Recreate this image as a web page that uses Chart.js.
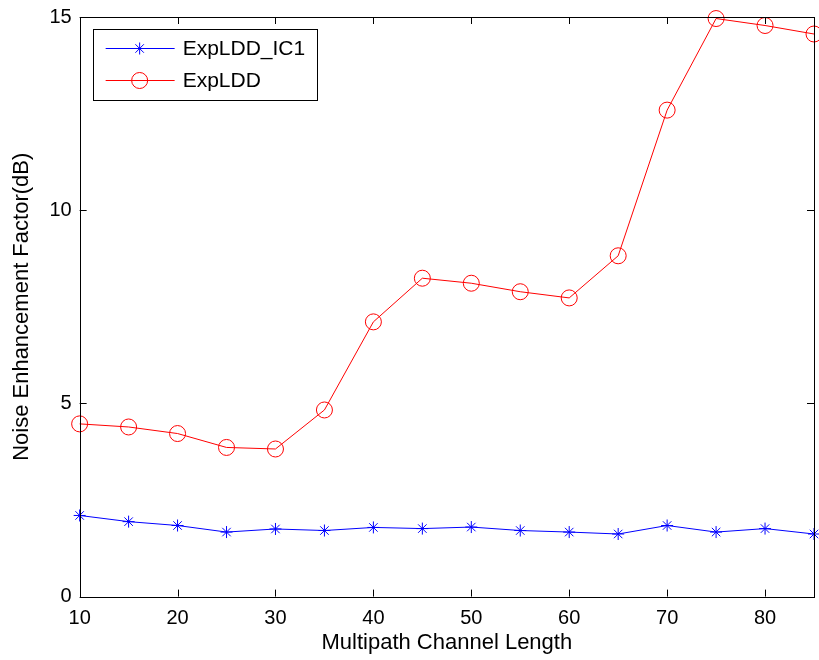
<!DOCTYPE html>
<html>
<head>
<meta charset="utf-8">
<script src="https://cdn.jsdelivr.net/npm/chart.js@4/dist/chart.umd.min.js"></script>
<style>
body{margin:0;background:#fff;}
#wrap{width:819px;height:660px;}
</style>
</head>
<body>
<div id="wrap"><canvas id="noiseChart" width="819" height="660"></canvas></div>
<script>
// channel lengths and noise enhancement (dB) per method
const channelLengths = [10,15,20,25,30,35,40,45,50,55,60,65,70,75,80,85];
const ic1Values = [2.10,1.94,1.84,1.67,1.75,1.71,1.79,1.76,1.80,1.71,1.67,1.62,1.84,1.67,1.76,1.62];
const expValues = [4.47,4.39,4.22,3.86,3.82,4.83,7.11,8.24,8.11,7.89,7.73,8.82,12.59,14.96,14.78,14.56];
const xTicks = [10,20,30,40,50,60,70,80];
const yTicks = [0,5,10,15];
const seriesNames = ["ExpLDD_IC1","ExpLDD"];

const FONT = "'Liberation Sans', Arial, sans-serif";
Chart.defaults.font.family = FONT;
Chart.defaults.color = "#000";

function pts(vals){ return channelLengths.map((x,i)=>({x:x,y:vals[i]})); }

// box round the plot plus inward ticks on all four sides
const framePlugin = {
  id:"frame",
  afterDraw(chart){
    const ctx=chart.ctx, a=chart.chartArea, sx=chart.scales.x, sy=chart.scales.y;
    const L=7;
    ctx.save();
    ctx.strokeStyle="#000"; ctx.lineWidth=1;
    ctx.strokeRect(Math.round(a.left)+0.5,Math.round(a.top)+0.5,Math.round(a.right-a.left),Math.round(a.bottom-a.top));
    ctx.beginPath();
    xTicks.forEach(v=>{
      const px=Math.round(sx.getPixelForValue(v))+0.5;
      ctx.moveTo(px,a.bottom); ctx.lineTo(px,a.bottom-L);
      ctx.moveTo(px,a.top); ctx.lineTo(px,a.top+L);
    });
    yTicks.forEach(v=>{
      const py=Math.round(sy.getPixelForValue(v))+0.5;
      ctx.moveTo(a.left,py); ctx.lineTo(a.left+L,py);
      ctx.moveTo(a.right,py); ctx.lineTo(a.right-L,py);
    });
    ctx.stroke();
    ctx.restore();
  }
};

// legend box in the upper left corner of the plot
const boxLegend = {
  id:"boxLegend",
  afterDraw(chart){
    const ctx=chart.ctx, a=chart.chartArea;
    const bx=a.left+13, by=a.top+12, bw=224, bh=71;
    ctx.save();
    ctx.fillStyle="#fff"; ctx.fillRect(bx,by,bw,bh);
    ctx.strokeStyle="#000"; ctx.lineWidth=1;
    ctx.strokeRect(Math.round(bx)+0.5,Math.round(by)+0.5,bw,bh);
    chart.data.datasets.forEach((ds,i)=>{
      const y=Math.round(by+19+i*32)+0.5;
      ctx.strokeStyle=ds.borderColor; ctx.lineWidth=1;
      ctx.beginPath(); ctx.moveTo(bx+13,y); ctx.lineTo(bx+82,y); ctx.stroke();
      ctx.fillStyle="rgba(0,0,0,0)";
      Chart.helpers.drawPoint(ctx,{pointStyle:ds.pointStyle,radius:ds.pointRadius,borderWidth:1,rotation:0},bx+47,y);
      ctx.fillStyle="#000"; ctx.font="21px "+FONT; ctx.textBaseline="middle";
      ctx.fillText(seriesNames[i],bx+90,y+1);
    });
    ctx.restore();
  }
};

new Chart(document.getElementById("noiseChart"),{
  type:"line",
  data:{datasets:[
    {label:seriesNames[0],data:pts(ic1Values),borderColor:"#0000ff",borderWidth:1,pointStyle:"star",pointRadius:6,pointBorderColor:"#0000ff",pointBorderWidth:1,pointBackgroundColor:"rgba(0,0,0,0)",tension:0,clip:false},
    {label:seriesNames[1],data:pts(expValues),borderColor:"#ff0000",borderWidth:1,pointStyle:"circle",pointRadius:8,pointBorderColor:"#ff0000",pointBorderWidth:1,pointBackgroundColor:"rgba(0,0,0,0)",tension:0,clip:false}
  ]},
  options:{
    responsive:false,animation:false,
    layout:{autoPadding:false,padding:{top:17,right:5,left:9,bottom:0}},
    plugins:{legend:{display:false},tooltip:{enabled:false}},
    scales:{
      x:{type:"linear",min:10,max:85,
        afterBuildTicks(s){ s.ticks=xTicks.map(v=>({value:v})); },
        grid:{display:false,drawTicks:false},border:{display:false},
        ticks:{font:{size:20},color:"#000",padding:10,maxRotation:0},
        title:{display:true,text:"Multipath Channel Length",font:{size:22},color:"#000",padding:{top:-11,bottom:4}}},
      y:{type:"linear",min:0,max:15,
        afterBuildTicks(s){ s.ticks=yTicks.map(v=>({value:v})); },
        afterFit(s){ s.paddingTop=0; s.paddingBottom=0; },
        grid:{display:false,drawTicks:false},border:{display:false},
        ticks:{font:{size:20},color:"#000",padding:8},
        title:{display:true,text:"Noise Enhancement Factor(dB)",font:{size:22},color:"#000",padding:{top:0,bottom:6}}}
    }
  },
  plugins:[framePlugin,boxLegend]
});
</script>
</body>
</html>
